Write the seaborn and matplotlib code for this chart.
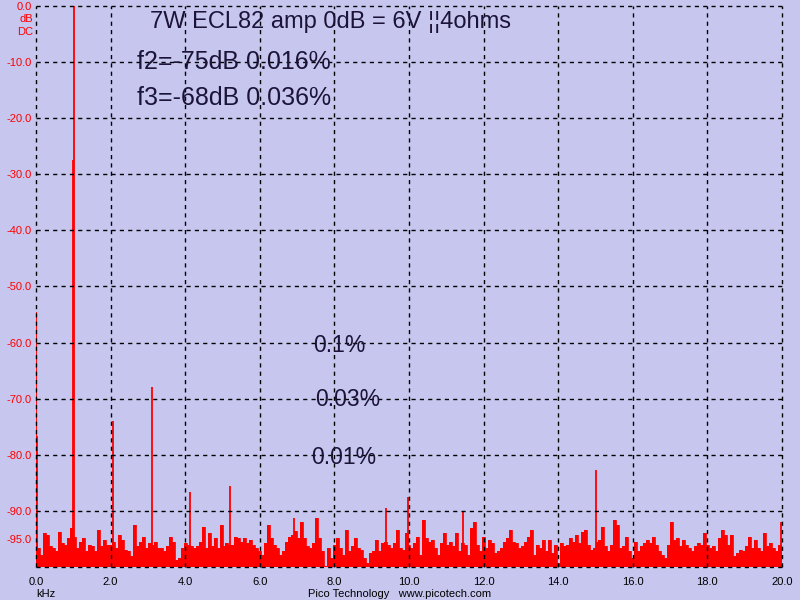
import numpy as np
import matplotlib
matplotlib.use("Agg")
import matplotlib.pyplot as plt
import seaborn as sns

# ------------------------------------------------------------
# Dati letti dallo spettro (kHz, dB)
# ------------------------------------------------------------

# rumore di fondo, un valore ogni 0.08 kHz da 0 a 20 kHz
noise_db = [
    # 0 - 3.3 kHz
    -95.2, -96.6, -97.8, -94.0, -94.3, -96.3, -96.6, -97.2, -93.7, -95.7,
    -96.0, -94.9, -93.1, -94.6, -96.6, -95.5, -94.9, -97.2, -96.0, -96.3,
    -97.2, -93.4, -96.3, -95.2, -96.0, -96.0, -95.5, -96.6, -94.3, -95.2,
    -96.9, -97.2, -98.1, -92.5, -96.3, -95.5, -94.6, -96.6, -95.7, -96.0,
    -95.5, -96.6,
    # 3.4 - 6.6 kHz
    -96.6, -97.2, -96.3, -94.6, -95.5, -98.7, -98.4, -96.6, -95.7, -96.0,
    -96.3, -96.6, -96.3, -95.5, -92.8, -96.6, -94.0, -96.3, -94.9, -96.6,
    -92.5, -96.3, -95.7, -96.0, -96.0, -94.6, -94.9, -95.5, -94.9, -95.7,
    -95.2, -96.0, -96.6, -97.2, -97.8, -95.7, -92.5, -94.9, -96.0, -96.6,
    -97.8, -97.2,
    # 6.7 - 10.0 kHz
    -95.5, -94.6, -94.3, -93.5, -94.9, -91.9, -94.9, -96.3, -96.6, -95.7,
    -91.3, -94.9, -97.2, -99.9, -96.6, -98.4, -96.0, -94.9, -96.6, -97.8,
    -93.4, -97.2, -96.3, -94.9, -96.6, -96.9, -98.4, -99.3, -97.5, -97.2,
    -95.2, -97.2, -95.7, -95.5, -96.0, -96.6, -95.7, -93.4, -96.6, -96.9,
    -94.0, -96.0,
    # 10.1 - 13.4 kHz
    -96.6, -95.7, -94.6, -97.8, -91.6, -94.9, -95.5, -95.2, -96.6, -97.8,
    -95.7, -94.0, -96.0, -95.5, -96.3, -94.0, -97.2, -95.7, -96.0, -97.8,
    -93.1, -91.9, -96.0, -97.2, -94.6, -96.6, -95.2, -95.7, -97.5, -97.2,
    -96.6, -95.5, -94.9, -93.4, -95.5, -95.7, -96.6, -96.3, -95.5, -94.6,
    -93.4, -97.8,
    # 13.4 - 16.7 kHz
    -96.0, -96.6, -95.2, -97.2, -95.2, -97.5, -96.0, -99.3, -95.7, -96.3,
    -96.0, -94.9, -95.5, -94.3, -95.7, -93.7, -93.4, -96.0, -96.9, -96.6,
    -95.5, -95.2, -92.8, -96.3, -97.2, -96.0, -91.6, -92.5, -96.6, -96.3,
    -94.6, -97.2, -98.4, -95.5, -97.2, -96.3, -95.7, -95.2, -95.7, -94.6,
    -96.0, -97.2,
    # 16.8 - 20.0 kHz
    -97.8, -98.4, -96.0, -91.9, -95.2, -94.9, -96.3, -95.2, -96.0, -96.6,
    -97.2, -96.3, -95.7, -96.0, -94.0, -96.0, -96.6, -96.3, -97.2, -94.9,
    -93.4, -94.3, -96.0, -94.3, -98.1, -97.5, -96.9, -97.2, -96.3, -94.6,
    -96.6, -95.2, -96.6, -97.2, -94.0, -96.3, -95.7, -96.6, -97.2, -96.0,
    -96.6,
]
noise_khz = np.linspace(0.0, 20.0, len(noise_db))

# righe spettrali (fondamentale, armoniche, spurie)
peak_khz = [0.0, 0.03, 1.0, 1.02, 2.06, 3.11, 4.13, 5.2, 6.92, 9.38, 9.97, 11.45, 15.01, 19.97]
peak_db = [-54.5, -76.7, -27.5, 0.0, -74.0, -68.0, -86.6, -85.5, -91.3, -89.5, -87.5, -90.0, -82.7, -92.0]

x_ticks = np.arange(0, 21, 2)
y_ticks = [0, -10, -20, -30, -40, -50, -60, -70, -80, -90, -95]
y_grid = np.arange(0, -101, -10)

title_lines = ["7W ECL82 amp 0dB = 6V \u00a6\u00a64ohms", "f2=-75dB 0.016%", "f3=-68dB 0.036%"]
ref_labels = ["0.1%", "0.03%", "0.01%"]

# ------------------------------------------------------------
# Figura
# ------------------------------------------------------------

bg = "#c6c6ee"
sns.set_theme(style="white")
plt.rcParams["font.family"] = ["Liberation Sans", "DejaVu Sans"]

fig = plt.figure(figsize=(8, 6), dpi=100, facecolor=bg)
ax = fig.add_axes([36 / 800, 1 - 567 / 600, 746 / 800, 561 / 600])
ax.set_facecolor(bg)

# rumore di fondo (a barre, come l'FFT originale)
ax.fill_between(noise_khz, noise_db, -100, step="mid", color="red", lw=0)
sns.lineplot(x=noise_khz, y=noise_db, ax=ax, color="red", lw=0.6, drawstyle="steps-mid")

# righe
ax.vlines(peak_khz, -100, peak_db, color="red", lw=1.3)

ax.set_xlim(0, 20)
ax.set_ylim(-100, 0)

# griglia tratteggiata (anche il bordo)
for xv in x_ticks:
    ax.axvline(xv, color="black", lw=1, ls=(0, (3, 3)), zorder=3, clip_on=False)
for yv in y_grid:
    ax.axhline(yv, color="black", lw=1, ls=(0, (3, 3)), zorder=3, clip_on=False)
for s in ax.spines.values():
    s.set_visible(False)

ax.set_xticks(x_ticks)
ax.set_xticklabels([f"{v:.1f}" for v in x_ticks])
ax.set_yticks(y_ticks)
ax.set_yticklabels([f"{v:.1f}" for v in y_ticks])
ax.tick_params(axis="both", length=0, labelsize=8)
ax.tick_params(axis="y", colors="red", pad=3)
ax.tick_params(axis="x", colors="black", pad=7)
ax.set_xlabel("")
ax.set_ylabel("")

# testi
txt_color = "#1c1438"
fig.text(150 / 800, 1 - 22 / 600, title_lines[0], fontsize=17, color=txt_color, va="center")
fig.text(137 / 800, 1 - 62 / 600, title_lines[1], fontsize=18, color=txt_color, va="center")
fig.text(137 / 800, 1 - 98 / 600, title_lines[2], fontsize=18, color=txt_color, va="center")

fig.text(313 / 800, 1 - 345 / 600, ref_labels[0], fontsize=16.5, color=txt_color, va="center")
fig.text(315 / 800, 1 - 400 / 600, ref_labels[1], fontsize=16.5, color=txt_color, va="center")
fig.text(311 / 800, 1 - 457 / 600, ref_labels[2], fontsize=16.5, color=txt_color, va="center")

fig.text(33 / 800, 1 - 19 / 600, "dB", fontsize=8, color="red", ha="right", va="center")
fig.text(33 / 800, 1 - 32 / 600, "DC", fontsize=8, color="red", ha="right", va="center")
fig.text(36 / 800, 1 - 594 / 600, "kHz", fontsize=8, color="black", va="center")
fig.text(400 / 800, 1 - 594 / 600, "Pico Technology   www.picotech.com", fontsize=8,
         color="black", ha="center", va="center")

fig.savefig("out.png", dpi=100, facecolor=bg)
